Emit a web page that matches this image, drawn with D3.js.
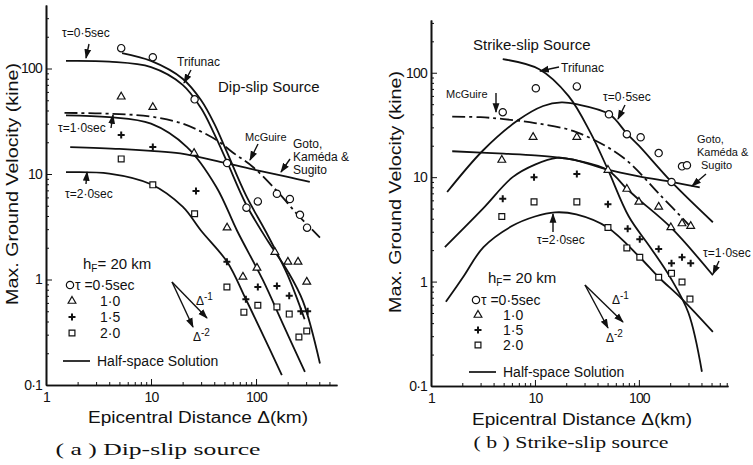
<!DOCTYPE html>
<html>
<head>
<meta charset="utf-8">
<script src="https://cdn.jsdelivr.net/npm/d3@7/dist/d3.min.js"></script>
<style>
body { margin: 0; background: #fff; }
svg { display: block; }
text { font-family: "Liberation Sans Narrow", "Liberation Sans", Arial, sans-serif; fill: #111; }
.cap { font-family: "Liberation Serif", "DejaVu Serif", serif; }
</style>
</head>
<body>
<svg id="fig" width="753" height="465"></svg>
<script>
// values, [epicentral distance km, max velocity kine]

// (a) dip-slip source
var dipObs05 = [[5.2,156],[10.4,128],[26,51],[53,12.7],[81,4.8],[104,5.5],[158,6.5],[210,5.8],[262,4.1],[306,3.1]];
var dipObs10 = [[5.2,54],[10.4,43],[25.7,15.8],[53,3.1],[75,1.06],[102,1.29],[151,1.82],[201,1.47],[251,1.47],[304,0.95]];
var dipObs15 = [[5.2,23.4],[10.4,18],[26.8,6.9],[52.8,1.47],[80,0.65],[104,0.85],[158,0.87],[207,0.70],[267,0.50],[310,0.50]];
var dipObs20 = [[5.2,13.9],[10.4,7.9],[26,4.2],[52.8,0.85],[76.6,0.49],[104,0.57],[158,0.55],[207,0.47],[256,0.285],[304,0.325]];

var dipHalf05 = [[1.55,118],[4,116],[10,103],[20,70],[30,42],[40,24],[53,13],[80,5.2],[130,2.3],[200,1.2],[280,0.62],[406,0.16]];
var dipHalf10 = [[1.55,36],[4,34.6],[10,30],[22,18],[42,7.5],[66,2.9],[116,0.99],[180,0.38],[292,0.133]];
var dipHalf20 = [[1.55,10.4],[4,10.1],[10,8.0],[20,4.9],[30,2.9],[53,1.47],[80,0.65],[120,0.28],[176,0.124]];
var dipTrifunac = [[5.3,140],[10,118],[20,80],[30,50],[40,30],[53,16],[80,6.3],[130,2.6],[200,1.1],[290,0.42]];
var dipMcGuire = [[1.5,38],[5,37],[10,35],[20,30],[42,21],[60,16],[94,11.6],[158,6.9],[250,4.1],[406,2.5]];
var dipGoto = [[1.7,18],[5,17.3],[10,16.6],[19,15.7],[50,12.8],[100,10.9],[200,9.4],[325,8.4]];

// (b) strike-slip source
var ssObs05 = [[4.9,41.9],[10.2,71],[25.3,74],[51.5,40],[76.6,25.8],[104,24.1],[155,17],[206,9.0],[260,12.7],[290,13]];
var ssObs10 = [[4.8,14.6],[9.6,24.2],[25.3,24.2],[50.4,11.7],[76.6,7.7],[100,5.8],[155,5.2],[203,3.3],[260,3.6],[315,3.4]];
var ssObs15 = [[4.9,6.2],[9.8,10],[25.3,10.7],[50.4,5.5],[78,3.2],[102,2.55],[155,2.05],[206,1.5],[260,1.71],[315,1.5]];
var ssObs20 = [[4.8,4.2],[9.8,5.8],[25.3,5.8],[50.4,3.3],[76.6,2.1],[102,1.71],[155,1.1],[206,1.2],[260,0.99],[310,0.68]];

var ssHalf05 = [[1.43,7.2],[3.16,18],[6.85,35],[12,48],[18,52],[25,50],[52,40],[77,26],[100,20],[206,9.0],[515,3.7]];
var ssHalf10 = [[1.36,2.14],[3.16,5.0],[6.1,10],[10,13.2],[16.3,15.3],[25,14.5],[50,11.7],[77,7.7],[100,6.1],[203,3.3],[515,1.15]];
var ssHalf20 = [[1.39,0.64],[2.03,1.1],[3.2,2.14],[6,3.4],[10,4.2],[15.6,4.6],[25,4.4],[50,3.3],[102,1.71],[155,1.1],[260,0.68],[515,0.33]];
var ssTrifunac = [[4.9,135],[11,108],[21,60],[34,27],[50,12],[80,4.2],[130,2.1],[200,1.1],[300,0.5],[404,0.137]];
var ssMcGuire = [[1.6,38],[3,37.5],[5,36],[10,33],[25,27],[70,15.5],[159,6.8],[310,3.4]];
var ssGoto = [[1.6,17.7],[5,16.8],[10,16.2],[16.3,15.5],[25,14.5],[49,11.9],[100,10.2],[206,9.0],[385,8.0]];

var xMajor = [1, 10, 100];
var yMajor = [0.1, 1, 10, 100];
var legendTau = ["0·5sec", "1·0", "1·5", "2·0"];

var svg = d3.select('#fig');

// arrow head for the little pointer arrows
svg.append('defs').append('marker')
  .attr('id', 'ah').attr('viewBox', '0 0 10 10').attr('refX', 9).attr('refY', 5)
  .attr('markerWidth', 7).attr('markerHeight', 7).attr('orient', 'auto')
  .append('path').attr('d', 'M0,1.5L10,5L0,8.5Z').attr('fill', '#111');

function minorTicks(lo, hi) {
  var out = [];
  for (var e = -1; e < 3; e++) {
    for (var m = 2; m < 10; m++) {
      var v = m * Math.pow(10, e);
      if (v > lo && v < hi) out.push(v);
    }
  }
  return out;
}

function makePanel(p) {
  var g = svg.append('g');
  var x = d3.scaleLog().domain(p.xDomain).range(p.xRange);
  var y = d3.scaleLog().domain(p.yDomain).range(p.yRange);

  // axes: ticks point inward
  var xa = g.append('g').attr('transform', 'translate(0,' + p.yRange[0] + ')');
  xa.call(d3.axisBottom(x).tickValues(minorTicks(p.xDomain[0], p.xDomain[1])).tickSize(-3).tickSizeOuter(0).tickFormat(''));
  xa.append('g').call(d3.axisBottom(x).tickValues(xMajor).tickSize(-6).tickSizeOuter(0).tickPadding(7).tickFormat(d3.format('d')));
  var ya = g.append('g').attr('transform', 'translate(' + p.xRange[0] + ',0)');
  ya.call(d3.axisLeft(y).tickValues(minorTicks(p.yDomain[0], p.yDomain[1])).tickSize(-3).tickSizeOuter(0).tickFormat(''));
  ya.append('g').call(d3.axisLeft(y).tickValues(yMajor).tickSize(-6).tickSizeOuter(0).tickPadding(4)
    .tickFormat(function (d) { return d < 1 ? '0·1' : d; }));
  g.selectAll('.domain').attr('stroke', '#111').attr('stroke-width', 1.6);
  g.selectAll('.tick line').attr('stroke', '#111').attr('stroke-width', 1);
  g.selectAll('.tick text').attr('font-size', 14).attr('fill', '#111').attr('letter-spacing', -0.8)
    .attr('font-family', '"Liberation Sans Narrow", "Liberation Sans", sans-serif');

  var line = d3.line()
    .x(function (d) { return x(d[0]); })
    .y(function (d) { return y(d[1]); })
    .curve(d3.curveCatmullRom.alpha(0.5));

  p.curves.forEach(function (c) {
    g.append('path').datum(c.data).attr('d', line)
      .attr('fill', 'none').attr('stroke', '#111')
      .attr('stroke-width', c.width || 1.8)
      .attr('stroke-dasharray', c.dash || null);
  });

  p.obs.forEach(function (set, i) {
    drawMarks(g, set.map(function (d) { return [x(d[0]), y(d[1])]; }), i);
  });
  return g;
}

// 0 circle, 1 triangle, 2 plus, 3 square
function drawMarks(g, pts, kind) {
  var sel = g.append('g').selectAll('path').data(pts).enter().append('path')
    .attr('transform', function (d) { return 'translate(' + d[0] + ',' + d[1] + ')'; });
  if (kind == 2) {
    sel.attr('d', 'M-3.5,0H3.5M0,-3.5V3.5').attr('stroke', '#111').attr('stroke-width', 2).attr('fill', 'none');
  } else {
    var t = [d3.symbolCircle, d3.symbolTriangle, null, d3.symbolSquare][kind];
    var s = [42, 26, 0, 34][kind];
    sel.attr('d', d3.symbol().type(t).size(s)).attr('fill', '#fff').attr('stroke', '#111').attr('stroke-width', 1.2);
  }
}

function label(g, x, y, str, size, anchor) {
  return g.append('text').attr('x', x).attr('y', y).attr('font-size', size)
    .attr('text-anchor', anchor || 'start').text(str);
}
function arrow(g, x1, y1, x2, y2) {
  g.append('line').attr('x1', x1).attr('y1', y1).attr('x2', x2).attr('y2', y2)
    .attr('stroke', '#111').attr('stroke-width', 1.4).attr('marker-end', 'url(#ah)');
}
function delta(g, x, y, pw) {
  var t = g.append('text').attr('x', x).attr('y', y).attr('font-size', 12).text('Δ');
  t.append('tspan').attr('dy', -5).attr('font-size', 10).text(pw);
}

function legend(g, lx, ly, hx, hy, tx, sy) {
  var h = g.append('text').attr('x', hx).attr('y', hy).attr('font-size', 15).text('h');
  h.append('tspan').attr('dy', 3).attr('font-size', 10).text('F');
  h.append('tspan').attr('dy', -3).text('= 20 km');
  for (var i = 0; i < 4; i++) {
    var cy = ly + i * sy;
    drawMarks(g, [[lx + (i ? 2 : 0), cy]], i);
    if (i == 0) label(g, lx + 5, cy + 5, 'τ =' + legendTau[0], 14);
    else label(g, tx, cy + 5, legendTau[i], 14);
  }
  var hl = ly + 4 * sy + 12;
  g.append('line').attr('x1', lx - 7).attr('x2', lx + 20).attr('y1', hl).attr('y2', hl)
    .attr('stroke', '#111').attr('stroke-width', 1.7);
  label(g, lx + 27, hl + 5, 'Half-space  Solution', 14);
}

function axisTitles(g, ycx, ycy, xcx, xcy, cap, capx, capy, capw) {
  g.append('text').attr('transform', 'translate(' + ycx + ',' + ycy + ') rotate(-90)')
    .attr('text-anchor', 'middle').attr('font-size', 16)
    .attr('textLength', 242).attr('lengthAdjust', 'spacingAndGlyphs')
    .text('Max.  Ground Velocity  (kine)');
  label(g, xcx, xcy, 'Epicentral Distance  Δ(km)', 16, 'middle')
    .attr('textLength', 220).attr('lengthAdjust', 'spacingAndGlyphs');
  label(g, capx, capy, cap, 16, 'middle').attr('class', 'cap')
    .attr('textLength', capw).attr('lengthAdjust', 'spacingAndGlyphs');
}

// ---------- (a) ----------
var dash = '13,4,3,4';
var ga = makePanel({
  xDomain: [1, 590], xRange: [46, 337],
  yDomain: [0.1, 400], yRange: [385, 5],
  curves: [
    {data: dipHalf05}, {data: dipHalf10}, {data: dipHalf20},
    {data: dipTrifunac}, {data: dipGoto}, {data: dipMcGuire, dash: dash}
  ],
  obs: [dipObs05, dipObs10, dipObs15, dipObs20]
});
label(ga, 62, 37, 'τ=0·5sec', 12);
arrow(ga, 89, 44, 86, 58);
label(ga, 58, 132, 'τ=1·0sec', 12);
arrow(ga, 111, 128, 113, 115);
label(ga, 65, 198, 'τ=2·0sec', 12);
arrow(ga, 86, 184, 87, 172);
label(ga, 177, 66, 'Trifunac', 12);
arrow(ga, 191, 70, 184, 83);
label(ga, 218, 92, 'Dip-slip Source', 15);
label(ga, 245, 141, 'McGuire', 11);
arrow(ga, 258, 144, 250, 160);
label(ga, 293, 148, 'Goto,', 12);
label(ga, 293, 161, 'Kaméda &', 12);
label(ga, 293, 174, 'Sugito', 12);
arrow(ga, 290, 159, 281, 172);
legend(ga, 70, 285, 83, 269, 100, 16);
arrow(ga, 172, 282, 207, 318);
arrow(ga, 172, 282, 193, 327);
delta(ga, 196, 305, '-1');
delta(ga, 193, 341, '-2');
axisTitles(ga, 18, 184, 198, 423, '( a )  Dip-slip source', 158, 455, 205);

// ---------- (b) ----------
var gb = makePanel({
  xDomain: [1, 720], xRange: [431, 728],
  yDomain: [0.1, 320], yRange: [386, 20],
  curves: [
    {data: ssHalf05}, {data: ssHalf10}, {data: ssHalf20},
    {data: ssTrifunac}, {data: ssGoto}, {data: ssMcGuire, dash: dash}
  ],
  obs: [ssObs05, ssObs10, ssObs15, ssObs20]
});
label(gb, 473, 50, 'Strike-slip Source', 15);
label(gb, 561, 72, 'Trifunac', 12);
arrow(gb, 559, 67, 540, 71);
label(gb, 446, 98, 'McGuire', 11);
arrow(gb, 496, 93, 496, 112);
label(gb, 603, 101, 'τ=0·5sec', 12);
arrow(gb, 625, 105, 618, 119);
label(gb, 697, 143, 'Goto,', 11);
label(gb, 697, 156, 'Kaméda &', 11);
label(gb, 701, 169, 'Sugito', 11);
arrow(gb, 706, 174, 692, 186);
label(gb, 537, 244, 'τ=2·0sec', 12);
arrow(gb, 553, 232, 553, 214);
label(gb, 703, 257, 'τ=1·0sec', 12);
arrow(gb, 719, 261, 713, 274);
legend(gb, 476, 300, 488, 283, 503, 15);
arrow(gb, 585, 285, 623, 322);
arrow(gb, 585, 285, 608, 328);
delta(gb, 612, 304, '-1');
delta(gb, 606, 342, '-2');
axisTitles(gb, 401, 192, 582, 425, '( b )  Strike-slip source', 571, 448, 195);
</script>
</body>
</html>
